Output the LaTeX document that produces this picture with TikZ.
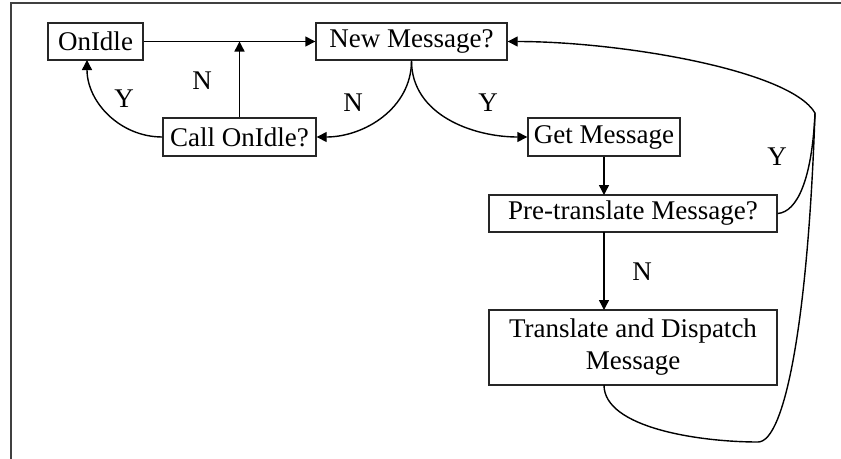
\documentclass[tikz,border=0pt]{standalone}
\usepackage{fontspec}
\setmainfont{Liberation Serif}
\usetikzlibrary{arrows.meta}
\begin{document}
\begin{tikzpicture}[x=1pt,y=-1pt,
  box/.style={draw=black!85, line width=1.4pt, inner sep=0pt, align=center,
    font=\fontsize{27}{32}\selectfont},
  lbl/.style={font=\fontsize{27}{32}\selectfont, inner sep=0pt},
  flow/.style={draw=black, line width=1.4pt, -{Triangle[length=10pt,width=10pt]}},
  link/.style={draw=black, line width=1.4pt},
  frame/.style={draw=black!75, line width=1.6pt}]
  \useasboundingbox (0,0) rectangle (841,458);

  % outer frame lines
  \draw[frame] (11,460) -- (11,3) -- (841,3);

  % boxes
  \node[box, minimum width=95pt,  minimum height=37pt] (onidle)   at (95.5,41.5) {OnIdle};
  \node[box, minimum width=191pt, minimum height=37pt] (newmsg)   at (411.5,41.5) {New Message?};
  \node[box, minimum width=153pt, minimum height=38pt] (callidle) at (239.5,137) {Call OnIdle?};
  \node[box, minimum width=152pt, minimum height=38pt] (getmsg)   at (604,137) {Get Message};
  \node[box, minimum width=288pt, minimum height=37pt] (pretrans) at (633,213.5) {Pre-translate Message?};
  \node[box, minimum width=288pt, minimum height=75pt] (transl)   at (633,347.5) {Translate and Dispatch\\Message};

  % helper points
  \coordinate (join) at (815,113);
  \coordinate (idletop) at (239.5,41.5);
  \coordinate (pretop) at (604,195);
  \coordinate (prebot) at (604,232);
  \coordinate (trtop) at (604,310);
  \coordinate (trbot) at (604,385);
  \coordinate (idlein) at (87,60);

  % connectors
  \draw[flow] (onidle.east) -- (newmsg.west);
  \draw[flow] (callidle.north) -- (idletop);
  \draw[flow] (callidle.west) to[out=180,in=-90] (idlein);
  \draw[flow] (newmsg.south) to[out=-90,in=0] (callidle.east);
  \draw[flow] (newmsg.south) to[out=-90,in=180] (getmsg.west);
  \draw[flow] (getmsg.south) -- (pretop);
  \draw[flow] (prebot) -- (trtop);
  \draw[flow] (pretrans.east) .. controls (797,212) and (812,180) .. (join)
     .. controls (790,70) and (620,41.5) .. (newmsg.east);
  \draw[link] (trbot) .. controls (604,428) and (700,442) .. (758,442)
     .. controls (785,442) and (808,320) .. (join);

  % branch labels
  \node[lbl] (n1) at (202,81)  {N};
  \node[lbl] (y1) at (124,99)  {Y};
  \node[lbl] (n2) at (353,103) {N};
  \node[lbl] (y2) at (488,103) {Y};
  \node[lbl] (y3) at (777,157) {Y};
  \node[lbl] (n3) at (642,272) {N};
\end{tikzpicture}
\end{document}
